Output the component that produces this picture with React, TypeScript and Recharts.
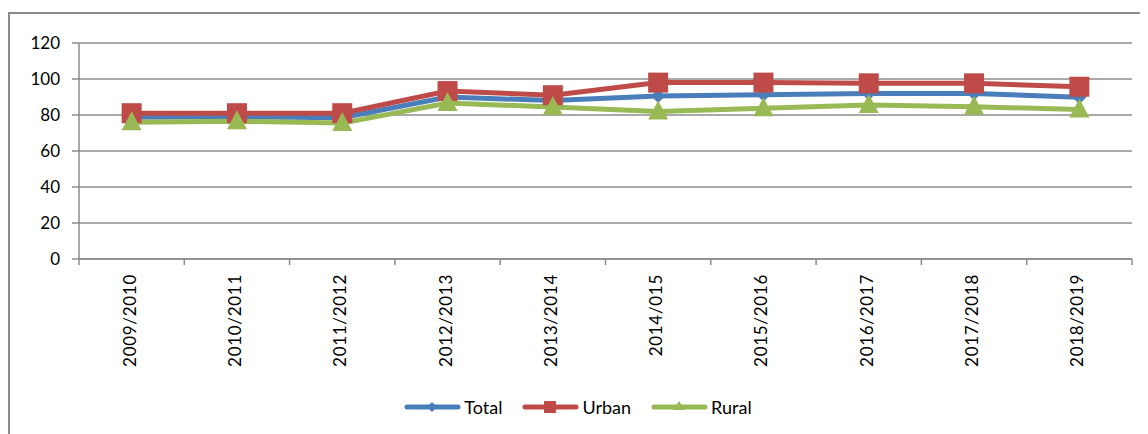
import { LineChart, Line, XAxis, YAxis, CartesianGrid, Legend } from 'recharts'

const years = [
  '2009/2010',
  '2010/2011',
  '2011/2012',
  '2012/2013',
  '2013/2014',
  '2014/015',
  '2015/2016',
  '2016/2017',
  '2017/2018',
  '2018/2019',
]
const total = [78.8, 79, 78.5, 90, 88, 90.5, 91.3, 92, 92, 89.8]
const urban = [81, 81, 81, 93.3, 91, 98, 98, 97.6, 97.6, 95.7]
const rural = [76, 76.5, 75.5, 86.7, 84.4, 82, 83.8, 85.5, 84.6, 83]
const yTicks = [0, 20, 40, 60, 80, 100, 120]

const BLUE = '#4a7ebb'
const RED = '#be4b48'
const GREEN = '#98b954'
const GRID = '#8c8c8c'
const FONT = "Lato, 'Open Sans', sans-serif"

const W = 1140
const H = 426
const M = { top: 35, right: 16, left: 0, bottom: 0 }
const Y_W = 71
const BAND = (W - M.left - M.right - Y_W) / years.length

const data = years.map((year, i) => ({
  year,
  total: total[i],
  urban: urban[i],
  rural: rural[i],
}))

const Diamond = (props: any) => {
  const { cx, cy } = props
  if (cx == null || cy == null) return <g />
  const r = 7
  return <path d={`M${cx},${cy - r} L${cx + r},${cy} L${cx},${cy + r} L${cx - r},${cy} Z`} fill={BLUE} />
}

const Square = (props: any) => {
  const { cx, cy } = props
  if (cx == null || cy == null) return <g />
  const s = 20
  return <rect x={cx - s / 2} y={cy - s / 2} width={s} height={s} fill={RED} />
}

const Triangle = (props: any) => {
  const { cx, cy } = props
  if (cx == null || cy == null) return <g />
  return <path d={`M${cx},${cy - 11} L${cx + 10},${cy + 8} L${cx - 10},${cy + 8} Z`} fill={GREEN} />
}

// tick marks sit on category boundaries, labels at the centre
const XTick = (props: any) => {
  const { x, y, payload, index, visibleTicksCount } = props
  const axisY = y - 8
  const last = index === visibleTicksCount - 1
  return (
    <g>
      <line x1={x - BAND / 2} y1={axisY} x2={x - BAND / 2} y2={axisY + 6} stroke={GRID} strokeWidth={1.5} />
      {last && <line x1={x + BAND / 2} y1={axisY} x2={x + BAND / 2} y2={axisY + 6} stroke={GRID} strokeWidth={1.5} />}
      <text
        x={0}
        y={0}
        transform={`translate(${x + 4},${y + 7}) rotate(-90)`}
        textAnchor="end"
        fontSize={17}
        letterSpacing={0.7}
        fontFamily={FONT}
        fill="#000"
      >
        {payload.value}
      </text>
    </g>
  )
}

const legendItems = [
  { name: 'Total', color: BLUE, shape: 'diamond' },
  { name: 'Urban', color: RED, shape: 'square' },
  { name: 'Rural', color: GREEN, shape: 'triangle' },
]

const LegendContent = () => (
  <div
    style={{
      display: 'flex',
      justifyContent: 'center',
      alignItems: 'center',
      gap: 20,
      fontFamily: FONT,
      fontSize: 18,
      color: '#000',
    }}
  >
    {legendItems.map((item) => (
      <div key={item.name} style={{ display: 'flex', alignItems: 'center' }}>
        <svg width={57} height={16} style={{ marginRight: 3 }}>
          <line x1={3} y1={8} x2={54} y2={8} stroke={item.color} strokeWidth={5} strokeLinecap="round" />
          {item.shape === 'diamond' && <path d="M28,3 L33,8 L28,13 L23,8 Z" fill={item.color} />}
          {item.shape === 'square' && <rect x={22} y={2} width={12} height={12} fill={item.color} />}
          {item.shape === 'triangle' && <path d="M28,2 L34,11 L22,11 Z" fill={item.color} />}
        </svg>
        <span>{item.name}</span>
      </div>
    ))}
  </div>
)

export default function App() {
  return (
    <div style={{ position: 'relative', width: W, height: H }}>
      <div
        style={{
          position: 'absolute',
          left: 0,
          top: 4,
          width: 1150,
          height: 440,
          borderTop: `2px solid ${GRID}`,
          borderLeft: `2px solid ${GRID}`,
          boxSizing: 'border-box',
        }}
      />
      <LineChart
        width={W}
        height={H}
        data={data}
        margin={M}
        style={{ position: 'absolute', left: 0, top: 0 }}
      >
        <CartesianGrid vertical={false} stroke={GRID} strokeWidth={1.5} />
        <XAxis
          dataKey="year"
          height={153}
          interval={0}
          padding={{ left: BAND / 2, right: BAND / 2 }}
          tick={<XTick />}
          tickSize={6}
          tickMargin={2}
          tickLine={false}
          axisLine={{ stroke: GRID, strokeWidth: 1.5 }}
        />
        <YAxis
          width={Y_W}
          domain={[0, 120]}
          ticks={yTicks}
          interval={0}
          tickSize={7}
          tickMargin={12}
          axisLine={{ stroke: GRID, strokeWidth: 1.5 }}
          tickLine={{ stroke: GRID, strokeWidth: 1.5 }}
          tick={{ fontSize: 17, fill: '#000', fontFamily: FONT }}
        />
        <Legend
          content={<LegendContent />}
          wrapperStyle={{ position: 'absolute', left: 0, top: 388, width: W }}
        />
        <Line
          type="linear"
          dataKey="total"
          name="Total"
          stroke={BLUE}
          strokeWidth={5}
          dot={<Diamond />}
          activeDot={false}
          isAnimationActive={false}
        />
        <Line
          type="linear"
          dataKey="urban"
          name="Urban"
          stroke={RED}
          strokeWidth={5}
          dot={<Square />}
          activeDot={false}
          isAnimationActive={false}
        />
        <Line
          type="linear"
          dataKey="rural"
          name="Rural"
          stroke={GREEN}
          strokeWidth={5}
          dot={<Triangle />}
          activeDot={false}
          isAnimationActive={false}
        />
      </LineChart>
    </div>
  )
}
